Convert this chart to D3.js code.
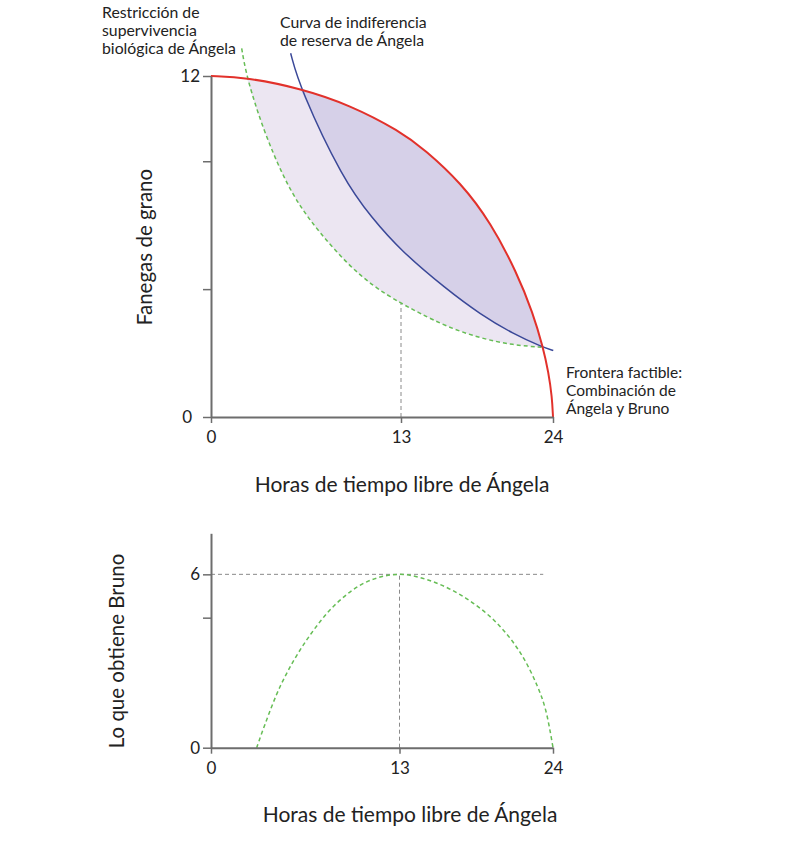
<!DOCTYPE html>
<html>
<head>
<meta charset="utf-8">
<script src="https://cdn.jsdelivr.net/npm/d3@7"></script>
<style>
  body { margin: 0; background: #fff; }
  svg text { font-family: Lato, "Open Sans", sans-serif; fill: #222; }
</style>
</head>
<body>
<svg id="chart" width="810" height="842">
  <g id="fills"></g>
  <g id="guides"></g>
  <g id="lines"></g>
  <g id="axes"></g>
  <g id="labels"></g>
</svg>
<script>
// values: hours of free time (x) and bushels of grain (y)
let frontier_hours = [0, 2.44, 6.09, 9.51, 12.93, 14.74, 17.34, 19.51, 21.39, 22.55, 23.28, 23.67, 23.93, 24]
let frontier_grain = [12, 11.95, 11.57, 10.98, 10.06, 9.40, 8.24, 6.83, 5.07, 3.66, 2.45, 1.58, 0.70, 0]

let survival_hours = [2.10, 2.44, 3.58, 4.93, 6.09, 7.46, 9.28, 11.11, 13, 14.37, 16.30, 18.72, 21.12, 23.28]
let survival_grain = [12.97, 11.95, 10.10, 8.46, 7.40, 6.47, 5.41, 4.59, 4.00, 3.65, 3.18, 2.77, 2.53, 2.45]

let reserve_hours = [5.45, 6.09, 9.05, 11.02, 12.93, 16.30, 18.72, 21.12, 23.28, 24.02]
let reserve_grain = [12.80, 11.57, 8.34, 7.00, 5.88, 4.49, 3.62, 2.92, 2.45, 2.34]

let bruno_hours = [3.15, 4.76, 6.60, 8.67, 10.74, 13, 15.42, 17.77, 19.92, 21.64, 22.86, 23.47, 24]
let bruno_grain = [0, 2.11, 3.73, 5.00, 5.74, 6, 5.74, 5.17, 4.34, 3.30, 2.15, 1.31, 0]

let top_y_ticks = [0, 4.5, 9, 12]
let top_y_labels = ["0", "", "", "12"]
let bottom_y_ticks = [0, 4.5, 6]
let bottom_y_labels = ["0", "", "6"]
let x_ticks = [0, 13, 24]
let x_labels = ["0", "13", "24"]

let chosen_hours = 13
let chosen_survival = 4.0
let bruno_max = 6
let bruno_guide_end = 23.3
let meet_hours = 23.28

function pts(xs, ys) {
  return xs.map((x, i) => ({x: x, y: ys[i]}))
}

function make_scales() {
  return {
    top_x: d3.scaleLinear().domain([0, 13, 24]).range([211, 401, 553]),
    top_y: d3.scaleLinear().domain([0, 12]).range([417, 76]),
    bot_x: d3.scaleLinear().domain([0, 13, 24]).range([211, 399.5, 553]),
    bot_y: d3.scaleLinear().domain([0, 7.42]).range([747.7, 533.3])
  }
}

function band(line_gen, upper, lower) {
  let a = line_gen(upper)
  let b = line_gen(lower.slice().reverse()).replace(/^M/, "L")
  return a + b + "Z"
}

function draw_top(scales) {
  let line_gen = d3.line()
    .x(d => scales.top_x(d.x))
    .y(d => scales.top_y(d.y))
    .curve(d3.curveBasis)

  let frontier = pts(frontier_hours, frontier_grain)
  let survival = pts(survival_hours, survival_grain)
  let reserve = pts(reserve_hours, reserve_grain)

  let light_top = frontier.filter(d => d.x >= 2.44 && d.x <= meet_hours)
  let light_bottom = survival.filter(d => d.x >= 2.44)
  let dark_top = frontier.filter(d => d.x >= 6.09 && d.x <= meet_hours)
  let dark_bottom = reserve.filter(d => d.x >= 6.09 && d.x <= meet_hours)

  d3.select("#fills").append("path")
    .attr("d", band(line_gen, light_top, light_bottom))
    .attr("fill", "#ece6f2")
  d3.select("#fills").append("path")
    .attr("d", band(line_gen, dark_top, dark_bottom))
    .attr("fill", "#d6d0e8")

  d3.select("#guides").append("line")
    .attr("x1", scales.top_x(chosen_hours)).attr("x2", scales.top_x(chosen_hours))
    .attr("y1", scales.top_y(0)).attr("y2", scales.top_y(chosen_survival))
    .attr("stroke", "#8a8a8a").attr("stroke-width", 1).attr("stroke-dasharray", "4,3")

  let g = d3.select("#lines")
  g.append("path").attr("d", line_gen(survival))
    .attr("fill", "none").attr("stroke", "#66bd55").attr("stroke-width", 1.5)
    .attr("stroke-dasharray", "4,3")
  g.append("path").attr("d", line_gen(reserve))
    .attr("fill", "none").attr("stroke", "#3a4898").attr("stroke-width", 1.5)
  g.append("path").attr("d", line_gen(frontier))
    .attr("fill", "none").attr("stroke", "#e2312b").attr("stroke-width", 2)
}

function draw_bottom(scales) {
  let line_gen = d3.line()
    .x(d => scales.bot_x(d.x))
    .y(d => scales.bot_y(d.y))
    .curve(d3.curveCatmullRom.alpha(0.5))

  let g = d3.select("#guides")
  g.append("line")
    .attr("x1", scales.bot_x(0)).attr("x2", scales.bot_x(bruno_guide_end))
    .attr("y1", scales.bot_y(bruno_max)).attr("y2", scales.bot_y(bruno_max))
    .attr("stroke", "#8a8a8a").attr("stroke-width", 1).attr("stroke-dasharray", "4,3")
  g.append("line")
    .attr("x1", scales.bot_x(chosen_hours)).attr("x2", scales.bot_x(chosen_hours))
    .attr("y1", scales.bot_y(0)).attr("y2", scales.bot_y(bruno_max))
    .attr("stroke", "#8a8a8a").attr("stroke-width", 1).attr("stroke-dasharray", "4,3")

  d3.select("#lines").append("path")
    .attr("d", line_gen(pts(bruno_hours, bruno_grain)))
    .attr("fill", "none").attr("stroke", "#66bd55").attr("stroke-width", 1.5)
    .attr("stroke-dasharray", "4,3")
}

function style_axis(sel) {
  sel.select(".domain").attr("stroke", "#6d6d6d").attr("stroke-width", 2)
  sel.selectAll(".tick line").attr("stroke", "#6d6d6d").attr("stroke-width", 1.5)
  sel.selectAll(".tick text").attr("font-size", 17).attr("fill", "#222")
    .style("font-family", "Lato, 'Open Sans', sans-serif")
}

function draw_axes(scales) {
  let g = d3.select("#axes")

  let top_x_axis = d3.axisBottom(scales.top_x)
    .tickValues(x_ticks).tickFormat((d, i) => x_labels[i])
    .tickSize(6).tickSizeOuter(0).tickPadding(8)
  g.append("g").attr("transform", "translate(0, 417)").call(top_x_axis).call(style_axis)

  let top_y_axis = d3.axisLeft(scales.top_y)
    .tickValues(top_y_ticks).tickFormat((d, i) => top_y_labels[i])
    .tickSize(8).tickSizeOuter(0).tickPadding(3)
  let ty = g.append("g").attr("transform", "translate(211, 0)").call(top_y_axis).call(style_axis)
  // the zero label sits a little further out in the original
  ty.selectAll(".tick text").filter(d => d == 0).attr("x", -19)

  let bot_x_axis = d3.axisBottom(scales.bot_x)
    .tickValues(x_ticks).tickFormat((d, i) => x_labels[i])
    .tickSize(6).tickSizeOuter(0).tickPadding(8)
  g.append("g").attr("transform", "translate(0, 747.7)").call(bot_x_axis).call(style_axis)

  let bot_y_axis = d3.axisLeft(scales.bot_y)
    .tickValues(bottom_y_ticks).tickFormat((d, i) => bottom_y_labels[i])
    .tickSize(8).tickSizeOuter(0).tickPadding(3)
  g.append("g").attr("transform", "translate(211, 0)").call(bot_y_axis).call(style_axis)
}

function multiline(g, lines, x, y, size) {
  let t = g.append("text").attr("x", x).attr("y", y).attr("font-size", size)
  lines.forEach((s, i) => {
    t.append("tspan").attr("x", x).attr("dy", i == 0 ? 0 : 18).text(s)
  })
}

function draw_labels() {
  let g = d3.select("#labels")
  multiline(g, ["Restricción de", "supervivencia", "biológica de Ángela"], 102, 18, 15.8)
  multiline(g, ["Curva de indiferencia", "de reserva de Ángela"], 280, 28, 15.8)
  multiline(g, ["Frontera factible:", "Combinación de", "Ángela y Bruno"], 566, 378, 15.5)

  g.append("text").attr("x", 402).attr("y", 492).attr("text-anchor", "middle")
    .attr("font-size", 21).text("Horas de tiempo libre de Ángela")
  g.append("text").attr("x", 410).attr("y", 822).attr("text-anchor", "middle")
    .attr("font-size", 21).text("Horas de tiempo libre de Ángela")
  g.append("text").attr("transform", "translate(152, 247) rotate(-90)")
    .attr("text-anchor", "middle").attr("font-size", 20.5).text("Fanegas de grano")
  g.append("text").attr("transform", "translate(124, 651) rotate(-90)")
    .attr("text-anchor", "middle").attr("font-size", 20.5).text("Lo que obtiene Bruno")
}

let scales = make_scales()
draw_top(scales)
draw_bottom(scales)
draw_axes(scales)
draw_labels()
</script>
</body>
</html>
